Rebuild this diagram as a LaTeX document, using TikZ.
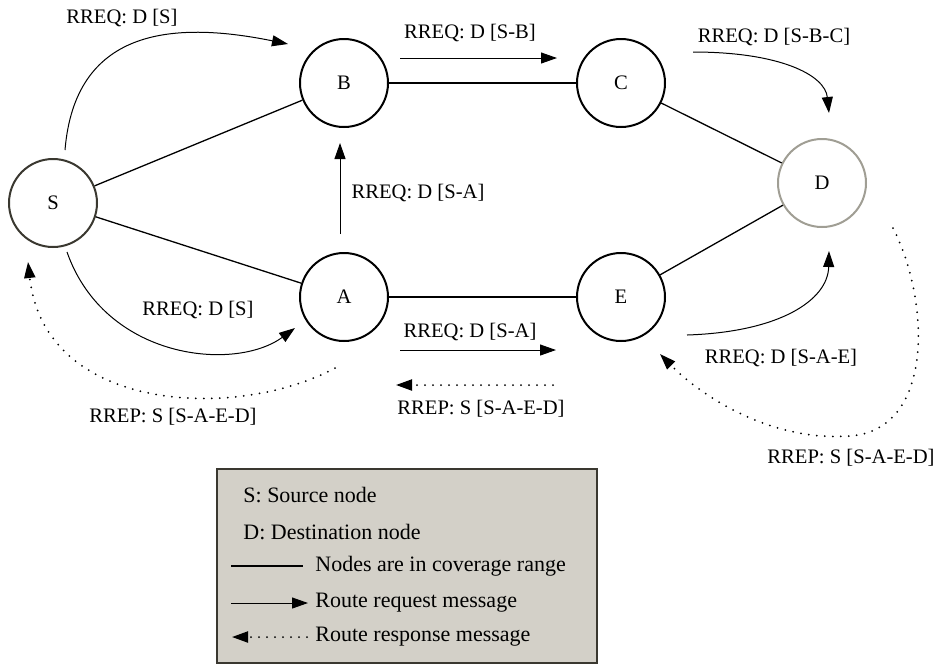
\documentclass[tikz,border=0pt]{standalone}
\usepackage{fontspec}
\setmainfont{Liberation Serif}
\usetikzlibrary{arrows.meta}
\definecolor{srcgray}{RGB}{58,56,48}
\definecolor{dstgray}{RGB}{160,158,148}
\definecolor{keyfill}{RGB}{211,208,200}
\tikzset{
  station/.style={circle, draw, line width=1pt, minimum size=44pt, inner sep=0pt},
  msg/.style={inner sep=0pt, font=\fontsize{10.3}{12}\selectfont},
  link/.style={line width=0.65pt},
  req/.style={line width=0.5pt, -{Triangle[length=8pt,width=5.5pt]}},
  rep/.style={line width=1pt, line cap=round, dash pattern=on 0pt off 4pt, -{Triangle[length=8pt,width=5.5pt]}},
  keytext/.style={anchor=west, inner sep=0pt, font=\fontsize{11}{13}\selectfont}
}
\begin{document}
\begin{tikzpicture}[x=0.5pt, y=-0.5pt, font=\fontsize{10.3}{12}\selectfont]
\useasboundingbox (0,0) rectangle (938,666);

% nodes
\node[station, draw=srcgray] (S) at (53,203) {S};
\node[station] (B) at (344,83) {B};
\node[station] (C) at (621,83) {C};
\node[station, draw=dstgray] (D) at (822,183) {D};
\node[station] (A) at (344,297) {A};
\node[station] (E) at (621,297) {E};

% coverage links
\draw[link] (S) -- (B);
\draw[link] (S) -- (A);
\draw[link] (B) -- (C);
\draw[link] (C) -- (D);
\draw[link] (A) -- (E);
\draw[link] (E) -- (D);

% message labels
\node[msg] (lblS1) at (122,18) {RREQ: D [S]};
\node[msg] (lblSB) at (470,33) {RREQ: D [S-B]};
\node[msg] (lblSBC) at (774,37) {RREQ: D [S-B-C]};
\node[msg] (lblSA1) at (418,193) {RREQ: D [S-A]};
\node[msg] (lblS2) at (198,310) {RREQ: D [S]};
\node[msg] (lblSA2) at (470,332) {RREQ: D [S-A]};
\node[msg] (lblSAE) at (781,358) {RREQ: D [S-A-E]};
\node[msg] (lblRep1) at (173,417) {RREP: S [S-A-E-D]};
\node[msg] (lblRep2) at (481,409) {RREP: S [S-A-E-D]};
\node[msg] (lblRep3) at (851,458) {RREP: S [S-A-E-D]};

% arrow ends
\coordinate (sUp) at (65,150);
\coordinate (bIn) at (288,44);
\coordinate (sDn) at (67,252);
\coordinate (aIn) at (295,328);
\coordinate (aUp) at (340,234);
\coordinate (bDn) at (340,143);
\coordinate (bcA) at (400,58);
\coordinate (bcB) at (557,58);
\coordinate (aeA) at (400,350);
\coordinate (aeB) at (556,350);
\coordinate (cOut) at (693,52);
\coordinate (dTop) at (829,113);
\coordinate (eOut) at (687,335);
\coordinate (dBot) at (829,251);
\coordinate (eaA) at (553,385);
\coordinate (eaB) at (396,385);
\coordinate (aRep) at (335,368);
\coordinate (sRep) at (28,262);
\coordinate (dRep) at (893,228);
\coordinate (eRep) at (660,354);

% route requests
\draw[req] (sUp) .. controls (75,30) and (170,20) .. (bIn);
\draw[req] (bcA) -- (bcB);
\draw[req] (cOut) .. controls (780,52) and (825,75) .. (dTop);
\draw[req] (aUp) -- (bDn);
\draw[req] (sDn) .. controls (105,360) and (235,372) .. (aIn);
\draw[req] (aeA) -- (aeB);
\draw[req] (eOut) .. controls (780,332) and (828,300) .. (dBot);

% route replies
\draw[rep] (dRep) .. controls (930,300) and (935,430) .. (850,436)
  .. controls (770,442) and (700,395) .. (eRep);
\draw[rep] (eaA) -- (eaB);
\draw[rep] (aRep) .. controls (240,420) and (45,415) .. (sRep);

% legend
\node[draw=srcgray, line width=0.8pt, fill=keyfill, minimum width=190pt, minimum height=97pt, inner sep=0pt] (key) at (407,566) {};
\node[keytext] (keyS) at (243,495) {S: Source node};
\node[keytext] (keyD) at (243,532) {D: Destination node};
\node[keytext] (keyLink) at (315,566) {Nodes are in coverage range};
\node[keytext] (keyReq) at (315,603) {Route request message};
\node[keytext] (keyRep) at (315,637) {Route response message};
\coordinate (kL1a) at (231,566);
\coordinate (kL1b) at (303,566);
\coordinate (kL2a) at (231,603);
\coordinate (kL2b) at (308,603);
\coordinate (kL3a) at (307,637);
\coordinate (kL3b) at (232,637);
\draw[line width=0.9pt] (kL1a) -- (kL1b);
\draw[req] (kL2a) -- (kL2b);
\draw[rep] (kL3a) -- (kL3b);
\end{tikzpicture}
\end{document}
